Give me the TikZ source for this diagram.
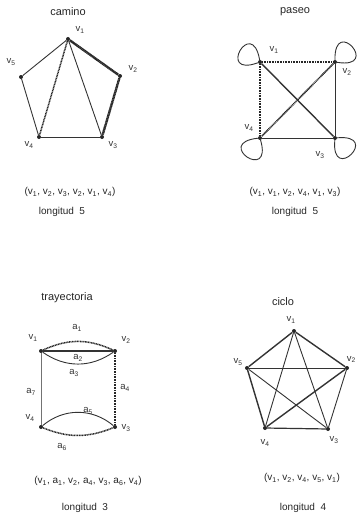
\documentclass[tikz,border=0pt]{standalone}
\usepackage{fontspec}
\setmainfont{Liberation Sans}
\usetikzlibrary{positioning}
\newcommand{\vsub}[1]{v\textsubscript{#1}}
\newcommand{\asub}[1]{a\textsubscript{#1}}
\begin{document}
\begin{tikzpicture}[x=1pt, y=-1pt,
    vertex/.style={circle, fill=black!85, inner sep=0pt, minimum size=4pt},
    vlabel/.style={font=\fontsize{9.5}{10}\selectfont, inner sep=1pt, text=black!80},
    title/.style={font=\fontsize{11}{12}\selectfont, text=black!85},
    caption/.style={font=\fontsize{10}{12}\selectfont, text=black!85},
    plain/.style={draw=black!80, line width=0.9pt},
    hilite/.style={draw=black!85, line width=1.5pt, dash pattern=on 1pt off 0.6pt},
    heavy/.style={draw=black!85, line width=2.4pt, dash pattern=on 1.2pt off 0.4pt}]

    \useasboundingbox (0,0) rectangle (357,519);

    % camino
    \node (ctitle) [title] at (68,12) {camino};
    \node (c1) [vertex] at (68,39) {};
    \node (c2) [vertex] at (120,76) {};
    \node (c3) [vertex] at (102,137) {};
    \node (c4) [vertex] at (39,137) {};
    \node (c5) [vertex] at (21,77) {};
    \node (lc1) [vlabel] at (80,30) {\vsub{1}};
    \node (lc2) [vlabel] at (133,69) {\vsub{2}};
    \node (lc3) [vlabel] at (113,145) {\vsub{3}};
    \node (lc4) [vlabel] at (29,145) {\vsub{4}};
    \node (lc5) [vlabel] at (11,62) {\vsub{5}};
    \draw [plain] (c1) -- (c5);
    \draw [plain] (c5) -- (c4);
    \draw [plain] (c4) -- (c3);
    \draw [plain] (c1) -- (c3);
    \draw [hilite] (c1) -- (c4);
    \draw [heavy] (c1) -- (c2);
    \draw [heavy] (c2) -- (c3);
    \node (cseq) [caption] at (70,192) {(\vsub{1}, \vsub{2}, \vsub{3}, \vsub{2}, \vsub{1}, \vsub{4})};
    \node (clen) [caption] at (62,212) {longitud\ \ 5};

    % paseo
    \node (ptitle) [title] at (295,12) {paseo};
    \node (p1) [vertex] at (260,62) {};
    \node (p2) [vertex] at (335,62) {};
    \node (p3) [vertex] at (335,138) {};
    \node (p4) [vertex] at (260,138) {};
    \node (lp1) [vlabel] at (274,50) {\vsub{1}};
    \node (lp2) [vlabel] at (347,72) {\vsub{2}};
    \node (lp3) [vlabel] at (320,155) {\vsub{3}};
    \node (lp4) [vlabel] at (249,128) {\vsub{4}};
    \draw [hilite, line width=1.2pt] (p1) -- (p2);
    \draw [hilite, line width=1.2pt] (p1) -- (p4);
    \draw [plain] (p2) -- (p3);
    \draw [plain] (p4) -- (p3);
    \draw [plain, line width=1.4pt] (p1) -- (p3);
    \draw [hilite, line width=1.7pt] (p2) -- (p4);
    \draw [plain] (p1) .. controls +(-100:47) and +(160:47) .. (p1);
    \draw [plain] (p2) .. controls +(-91:47) and +(9:47) .. (p2);
    \draw [plain] (p4) .. controls +(174:47) and +(74:47) .. (p4);
    \draw [plain] (p3) .. controls +(-5:47) and +(95:47) .. (p3);
    \node (pseq) [caption] at (295,192) {(\vsub{1}, \vsub{1}, \vsub{2}, \vsub{4}, \vsub{1}, \vsub{3})};
    \node (plen) [caption] at (295,212) {longitud\ \ 5};

    % trayectoria
    \node (ttitle) [title] at (67,298) {trayectoria};
    \node (t1) [vertex] at (41,351) {};
    \node (t2) [vertex] at (115,351) {};
    \node (t3) [vertex] at (115,427) {};
    \node (t4) [vertex] at (41,427) {};
    \node (lt1) [vlabel] at (33,338) {\vsub{1}};
    \node (lt2) [vlabel] at (126,340) {\vsub{2}};
    \node (lt3) [vlabel] at (126,428) {\vsub{3}};
    \node (lt4) [vlabel] at (30,418) {\vsub{4}};
    \draw [hilite] (t1) to [bend left=25] (t2);
    \draw [plain, line width=1.2pt] (t1) -- (t2);
    \draw [plain] (t1) to [bend right=35] (t2);
    \draw [plain, draw=black!55] (t1) -- (t4);
    \draw [hilite] (t2) -- (t3);
    \draw [plain] (t4) to [bend left=40] (t3);
    \draw [hilite] (t4) to [bend right=22] (t3);
    \node (la1) [vlabel] at (77,328) {\asub{1}};
    \node (la2) [vlabel] at (78,358) {\asub{2}};
    \node (la3) [vlabel] at (74,373) {\asub{3}};
    \node (la4) [vlabel] at (125,388) {\asub{4}};
    \node (la5) [vlabel] at (88,411) {\asub{5}};
    \node (la6) [vlabel] at (62,447) {\asub{6}};
    \node (la7) [vlabel] at (31,392) {\asub{7}};
    \node (tseq) [caption] at (88,481) {(\vsub{1}, \asub{1}, \vsub{2}, \asub{4}, \vsub{3}, \asub{6}, \vsub{4})};
    \node (tlen) [caption] at (85,508) {longitud\ \ 3};

    % ciclo
    \node (ytitle) [title] at (283,302) {ciclo};
    \node (y1) [vertex] at (294,331) {};
    \node (y2) [vertex] at (347,368) {};
    \node (y3) [vertex] at (328,429) {};
    \node (y4) [vertex] at (265,428) {};
    \node (y5) [vertex] at (247,368) {};
    \node (ly1) [vlabel] at (291,320) {\vsub{1}};
    \node (ly2) [vlabel, anchor=south east] at (357,364) {\vsub{2}};
    \node (ly3) [vlabel] at (334,440) {\vsub{3}};
    \node (ly4) [vlabel] at (265,443) {\vsub{4}};
    \node (ly5) [vlabel] at (238,362) {\vsub{5}};
    \draw [plain, line width=1.4pt] (y1) -- (y2);
    \draw [plain, line width=1.4pt] (y2) -- (y4);
    \draw [plain, line width=1.4pt] (y4) -- (y5);
    \draw [plain, line width=1.4pt] (y5) -- (y1);
    \draw [plain] (y2) -- (y3);
    \draw [plain, line width=1.2pt] (y3) -- (y4);
    \draw [plain] (y1) -- (y3);
    \draw [plain] (y1) -- (y4);
    \draw [plain] (y5) -- (y2);
    \draw [plain] (y5) -- (y3);
    \node (yseq) [caption] at (302,478) {(\vsub{1}, \vsub{2}, \vsub{4}, \vsub{5}, \vsub{1})};
    \node (ylen) [caption] at (303,508) {longitud\ \ 4};
\end{tikzpicture}
\end{document}
